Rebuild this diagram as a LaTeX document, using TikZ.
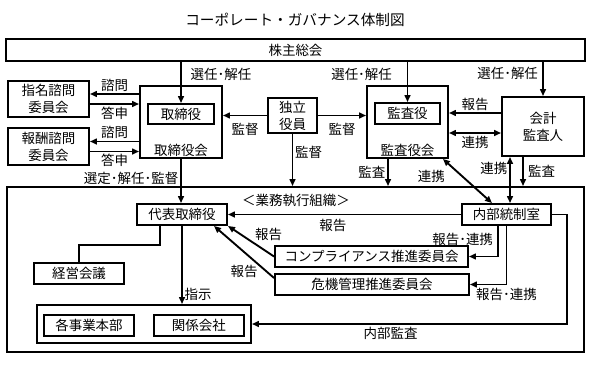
\documentclass[tikz,border=0pt]{standalone}
\usepackage{fontspec}
\setmainfont{Noto Sans CJK JP}
\usetikzlibrary{positioning, arrows.meta}

\begin{document}
\begin{tikzpicture}[
        x=0.03cm, y=-0.03cm,
        font=\fontsize{11.5}{14.5}\selectfont,
        blk/.style={
            draw, line width=1.6pt, inner sep=0pt,
            minimum height=0.63cm, align=center
        },
        txt/.style={inner sep=1.5pt, align=center},
        arr/.style={-{Triangle[length=6pt, width=5pt]}, line width=1.6pt},
        biarr/.style={{Triangle[length=6pt, width=5pt]}-{Triangle[length=6pt, width=5pt]}, line width=1.6pt},
        wire/.style={line width=1.6pt}
    ]
    \useasboundingbox (0,0) rectangle (593,391);

    \node[txt, font=\fontsize{12.5}{15}\selectfont] (title) at (295,20) {コーポレート・ガバナンス体制図};
    \node[blk, minimum width=17.37cm, minimum height=0.66cm] (kabu) at (295.5,50) {株主総会};

    % committees and board
    \node[blk, minimum width=2.43cm, minimum height=1.08cm] (shimei) at (48.5,99) {指名諮問\\委員会};
    \node[blk, minimum width=2.43cm, minimum height=1.11cm] (hoshu) at (48.5,146.5) {報酬諮問\\委員会};
    \node[blk, minimum width=2.46cm, minimum height=2.16cm] (torikai) at (181,122) {};
    \node[blk, minimum width=1.98cm, minimum height=0.6cm, below=0.54cm of torikai.north] (torishimari) {取締役};
    \node[txt, above=0pt of torikai.south] (torikaiLbl) {取締役会};
    \node[blk, minimum width=1.47cm, minimum height=1.05cm] (dokuritsu) at (292.5,115.5) {独立\\役員};
    \node[blk, minimum width=2.43cm, minimum height=2.16cm] (kansakai) at (407.5,122) {};
    \node[blk, minimum width=1.95cm, below=0.51cm of kansakai.north] (kansayaku) {監査役};
    \node[txt, above=0pt of kansakai.south] (kansakaiLbl) {監査役会};
    \node[blk, minimum width=2.46cm, minimum height=1.77cm] (kaikei) at (543,126.5) {会計\\監査人};

    % execution side
    \node[blk, minimum width=17.31cm, minimum height=4.95cm] (gyomu) at (295.5,269.5) {};
    \node[txt] (gyomuLbl) at (296,200) {＜業務執行組織＞};
    \node[blk, minimum width=2.7cm] (daihyo) at (182,214.5) {代表取締役};
    \node[blk, minimum width=2.7cm] (keiei) at (79,273.5) {経営会議};
    \node[blk, minimum width=6.42cm, minimum height=1.14cm] (jigyo) at (144,324) {};
    \node[blk, minimum width=2.7cm] (kakujigyo) at (89,325.5) {各事業本部};
    \node[blk, minimum width=2.7cm, right=0.54cm of kakujigyo] (kankei) {関係会社};
    \node[blk, minimum width=2.67cm] (naibu) at (506.5,214.5) {内部統制室};
    \node[blk, minimum width=5.79cm] (comp) at (371.5,256.5) {コンプライアンス推進委員会};
    \node[blk, minimum width=5.82cm] (kiki) at (372,284.5) {危機管理推進委員会};

    % shareholders
    \draw[arr] (torishimari.north |- kabu.south) -- (torishimari.north)
        node[txt, pos=.3, right=6pt] (sel1) {選任･解任};
    \draw[arr] (kansayaku.north |- kabu.south) -- (kansayaku.north)
        node[txt, pos=.3, left=11pt] (sel2) {選任･解任};
    \draw[arr] (kaikei.north |- kabu.south) -- (kaikei.north)
        node[txt, pos=.35, left=2pt] (sel3) {選任･解任};

    % advisory committees
    \draw[arr] ([yshift=0.15cm]shimei.east -| torikai.west) -- ([yshift=0.15cm]shimei.east)
        node[txt, midway, above] (q1) {諮問};
    \draw[arr] ([yshift=-0.15cm]shimei.east) -- ([yshift=-0.15cm]shimei.east -| torikai.west)
        node[txt, midway, below] (a1) {答申};
    \draw[arr] ([yshift=0.15cm]hoshu.east -| torikai.west) -- ([yshift=0.15cm]hoshu.east)
        node[txt, midway, above] (q2) {諮問};
    \draw[arr] ([yshift=-0.15cm]hoshu.east) -- ([yshift=-0.15cm]hoshu.east -| torikai.west)
        node[txt, midway, below] (a2) {答申};

    % independent officers
    \draw[arr] (dokuritsu.west) -- (dokuritsu.west -| torikai.east)
        node[txt, midway, below=4pt] (sv1) {監督};
    \draw[arr] (dokuritsu.east) -- (dokuritsu.east -| kansakai.west)
        node[txt, midway, below=4pt] (sv2) {監督};
    \draw[arr] (dokuritsu.south) -- (dokuritsu.south |- gyomu.north)
        node[txt, pos=.35, right] (sv3) {監督};

    \draw[arr] (torikai.south) -- (torikai.south |- daihyo.north)
        node[txt, pos=.45, left=0pt] (sv4) {選定･解任･監督};

    % auditors
    \draw[arr] ([xshift=-0.585cm]kansakai.south) -- ([xshift=-0.585cm]kansakai.south |- gyomu.north)
        node[txt, midway, left] (au1) {監査};
    \draw[biarr] ([xshift=-0.18cm]kansakai.south east) -- ([xshift=-0.435cm]naibu.north)
        node[txt, pos=.4, left=0.45cm] (co1) {連携};
    \draw[arr] ([yshift=0.405cm]kaikei.west) -- ([yshift=0.405cm]kaikei.west -| kansakai.east)
        node[txt, midway, above] (re1) {報告};
    \draw[biarr] ([yshift=-0.195cm]kaikei.west -| kansakai.east) -- ([yshift=-0.195cm]kaikei.west)
        node[txt, midway, below] (co2) {連携};
    \draw[biarr] ([xshift=0.105cm]naibu.north |- kaikei.south) -- ([xshift=0.105cm]naibu.north)
        node[txt, pos=.25, left] (co3) {連携};
    \draw[arr] ([xshift=-0.6cm]kaikei.south) -- ([xshift=-0.6cm]kaikei.south |- gyomu.north)
        node[txt, midway, right=2pt] (au2) {監査};

    % reporting lines
    \draw[arr] (naibu.west) -- (daihyo.east)
        node[txt, pos=.55, below=2pt] (re2) {報告};
    \draw[arr] (comp.west) -- (daihyo.south east)
        node[txt, pos=.45, above right=-1pt] (re3) {報告};
    \draw[arr] ([yshift=0.195cm]kiki.west) -- ([xshift=0.96cm]daihyo.south)
        node[txt, pos=.12, left=0.2cm] (re4) {報告};
    \draw[arr] ([xshift=-0.255cm]naibu.south) |- (comp.east)
        node[txt, pos=.22, left=2pt] (rc1) {報告･連携};
    \draw[arr] (naibu.south) |- (kiki.east)
        node[txt, pos=.5, below=1pt] (rc2) {報告･連携};
    \draw[arr] (naibu.east) -- ++(0.45cm,0) |- (jigyo.east)
        node[txt, pos=.78, below] (ia) {内部監査};

    \draw[wire] ([xshift=-0.66cm]daihyo.south) -- ++(0,19) -| (keiei.north);
    \draw[arr] (daihyo.south) -- (daihyo.south |- jigyo.north)
        node[txt, pos=.87, right] (ins) {指示};
\end{tikzpicture}
\end{document}
